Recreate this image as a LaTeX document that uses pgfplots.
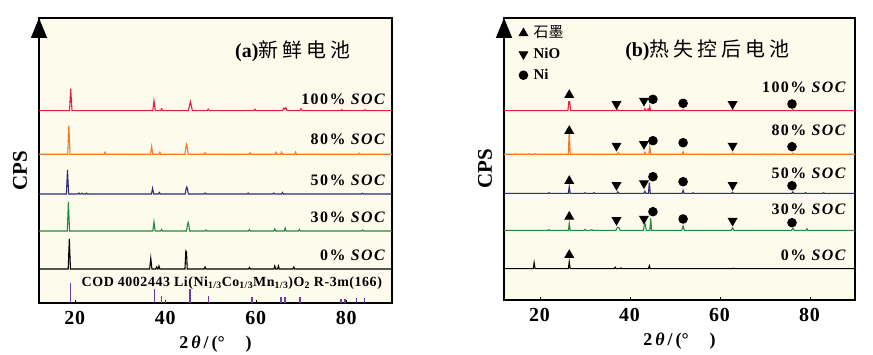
\documentclass[border=0pt]{standalone}
\usepackage{fontspec}
\setmainfont{Liberation Serif}
\newfontfamily\spc[LetterSpace=9]{Liberation Serif}
\newfontfamily\spcb[LetterSpace=4]{Liberation Serif}
\newfontfamily\cjk{Noto Sans CJK SC}
\usepackage{pgfplots}
\pgfplotsset{compat=1.18}
\usetikzlibrary{arrows.meta}
\definecolor{bgc}{HTML}{FCFBEC}
\definecolor{cred}{HTML}{E2203C}
\definecolor{corange}{HTML}{F07A22}
\definecolor{cblue}{HTML}{30297E}
\definecolor{cgreen}{HTML}{1F8A40}
\definecolor{cpurple}{HTML}{6B3BA6}
\newcommand{\fs}[1]{\fontsize{#1}{#1}\selectfont}
\pgfplotsset{
 xrdax/.style={
  scale only axis, xmin=12, xmax=90, ymin=0,
  axis background/.style={fill=bgc},
  axis line style={line width=1.6pt},
  xtick={20,40,60,80}, xticklabels={\textbf{20},\textbf{40},\textbf{60},\textbf{80}}, ytick=\empty,
  tick align=inside, xtick pos=bottom, major tick length=3bp,
  tick style={line width=0.8pt, black},
  xticklabel style={font=\spcb\bfseries\fs{20}, yshift=-5bp},
  xlabel={\bfseries 2\,\textit{θ}\,/\,(°\quad\,)},
  xlabel style={font=\fs{18}, at={(axis description cs:0.5,-0.145)}, anchor=center},
  ylabel={\bfseries CPS},
  ylabel style={font=\fs{21}, at={(axis description cs:-0.054,0.465)}, anchor=center},
  every axis plot/.append style={line width=1.1pt},
 },
}
\tikzset{lab/.style={anchor=east, inner sep=0pt, font=\spc\bfseries\fs{16}}}
\begin{document}
\begin{tikzpicture}
\useasboundingbox (0,0) rectangle (873bp,355bp);
% ---------------- (a) ----------------
\begin{axis}[xrdax, name=a, at={(39bp,52bp)}, anchor=south west,
  width=353bp, height=285bp, ymax=285]
\addplot[cred, table/row sep=\\] table[y expr=\thisrow{h}+192.3] {
x h\\ 12 0\\ 18.75 0\\ 19.0 22\\ 19.3 0\\ 37.15 0\\ 37.4 10\\ 37.7 0\\ 38.85 0\\ 39.1 2\\ 39.35 0\\
45.0 0\\ 45.25 5\\ 45.45 9\\ 45.65 5\\ 45.9 0\\ 49.15 0\\ 49.4 1.5\\ 49.65 0\\ 59.45 0\\ 59.7 1.5\\ 59.95 0\\
65.8 0\\ 66.1 2.5\\ 66.3 1.5\\ 66.55 3\\ 66.8 0\\ 69.65 0\\ 69.9 2\\ 70.15 0\\ 78.7 0\\ 78.9 1\\ 79.1 0\\
83.8 0\\ 84.0 1\\ 84.2 0\\ 90 0\\
};
\addplot[corange, table/row sep=\\] table[y expr=\thisrow{h}+148.7] {
x h\\ 12 0\\ 18.35 0\\ 18.6 29\\ 18.85 0\\ 26.4 0\\ 26.6 2\\ 26.8 0\\ 36.65 0\\ 36.9 7.7\\ 37.15 0\\
38.5 0\\ 38.7 2\\ 38.9 0\\ 44.25 0\\ 44.45 7\\ 44.6 10\\ 44.75 7\\ 44.95 0\\ 48.5 0\\ 48.7 1.5\\ 48.9 0\\
58.4 0\\ 58.6 1.5\\ 58.8 0\\ 64.2 0\\ 64.4 2\\ 64.6 0\\ 65.4 0\\ 65.6 2\\ 65.8 0\\ 68.5 0\\ 68.7 2\\ 68.9 0\\
82.6 0\\ 82.8 1\\ 83.0 0\\ 90 0\\
};
\addplot[cblue, table/row sep=\\] table[y expr=\thisrow{h}+109] {
x h\\ 12 0\\ 18.05 0\\ 18.3 24\\ 18.55 0\\ 20.6 0\\ 20.8 1\\ 21.0 0\\ 21.3 0\\ 21.5 0.8\\ 21.7 0\\ 22.3 0\\ 22.5 0.8\\ 22.7 0\\
36.85 0\\ 37.1 5.7\\ 37.35 0\\ 38.4 0\\ 38.6 1.5\\ 38.8 0\\ 44.3 0\\ 44.5 5\\ 44.65 7\\ 44.8 5\\ 45.0 0\\
48.5 0\\ 48.7 1\\ 48.9 0\\ 58.0 0\\ 58.2 1\\ 58.4 0\\ 63.7 0\\ 63.9 1\\ 64.1 0\\ 65.6 0\\ 65.8 1.5\\ 66.0 0\\
83.3 0\\ 83.5 0.7\\ 83.7 0\\ 90 0\\
};
\addplot[cgreen, table/row sep=\\] table[y expr=\thisrow{h}+72] {
x h\\ 12 0\\ 18.25 0\\ 18.5 29\\ 18.75 0\\ 37.15 0\\ 37.4 9\\ 37.65 0\\ 38.9 0\\ 39.1 1.5\\ 39.3 0\\
44.6 0\\ 44.8 6\\ 44.95 8.7\\ 45.1 6\\ 45.3 0\\ 48.7 0\\ 48.9 1\\ 49.1 0\\ 58.3 0\\ 58.5 1.5\\ 58.7 0\\
63.9 0\\ 64.1 2\\ 64.3 0\\ 66.2 0\\ 66.4 3\\ 66.6 0\\ 69.3 0\\ 69.5 1.5\\ 69.7 0\\ 83.3 0\\ 83.5 1\\ 83.7 0\\ 90 0\\
};
\addplot[black, table/row sep=\\] table[y expr=\thisrow{h}+34] {
x h\\ 12 0\\ 18.45 0\\ 18.7 30\\ 18.95 0\\ 36.45 0\\ 36.7 10.7\\ 36.95 0\\ 37.8 0\\ 38.0 2\\ 38.2 0\\ 38.3 0\\ 38.5 3\\ 38.7 0\\
44.25 0\\ 44.45 18\\ 44.6 17\\ 44.75 0\\ 48.5 0\\ 48.7 2\\ 48.9 0\\ 58.3 0\\ 58.5 1.5\\ 58.7 0\\
63.9 0\\ 64.1 3\\ 64.3 0\\ 64.7 0\\ 64.9 3\\ 65.1 0\\ 68.1 0\\ 68.3 2\\ 68.5 0\\ 90 0\\
};
\addplot[cpurple, ycomb, line width=1.4pt] coordinates {
(19.0,20) (37.5,13.7) (39.1,7) (40.0,2) (45.4,13.7) (49.4,7) (59.1,6) (65.5,6) (66.4,6) (69.7,6)
(78.7,4) (79.6,4) (82.2,5) (83.9,5)};
\node[lab] at (axis cs:88.8,204) {100\% \textit{SOC}};
\node[lab] at (axis cs:88.8,163.7) {80\% \textit{SOC}};
\node[lab] at (axis cs:88.8,123) {50\% \textit{SOC}};
\node[lab] at (axis cs:88.8,85.7) {30\% \textit{SOC}};
\node[lab] at (axis cs:88.8,48) {0\% \textit{SOC}};
\node[anchor=west, inner sep=0pt, font=\spcb\bfseries\fs{14}] at (axis cs:21.4,20.3)
 {COD 4002443 Li(Ni\textsubscript{1/3}Co\textsubscript{1/3}Mn\textsubscript{1/3})O\textsubscript{2} R-3m(166)};
\node[anchor=west, inner sep=0pt, font=\fs{20}] at (axis cs:55.3,251.3)
 {\bfseries(a)\mdseries{\cjk 新\hspace{4bp}鲜\hspace{4bp}电\hspace{4bp}池}};
\end{axis}
\draw[-{Triangle[length=20bp,width=16bp]}, line width=1.6pt] ([yshift=-22bp]a.north west) -- (a.north west);
% ---------------- (b) ----------------
\begin{axis}[xrdax, name=b, at={(504bp,55bp)}, anchor=south west,
  width=351bp, height=282bp, ymax=282,
  legend style={at={(axis description cs:0.04,0.982)}, anchor=north west, draw=none, fill=none,
    font=\bfseries\fs{15}, row sep=3bp, inner sep=1bp,
    nodes={text height=11bp, text depth=3bp},
    /tikz/every odd column/.append style={column sep=4bp}},
  legend cell align=left]
\addplot[cred, forget plot, table/row sep=\\] table[y expr=\thisrow{h}+189.3] {
x h\\ 12 0\\ 26.2 0\\ 26.4 9\\ 26.6 9\\ 26.8 0\\ 37.1 0\\ 37.3 1\\ 37.5 0\\ 43.1 0\\ 43.3 2\\ 43.5 0\\
43.8 0\\ 44.0 1.5\\ 44.15 0\\ 44.25 0\\ 44.4 4\\ 44.55 0\\ 51.6 0\\ 51.8 1\\ 52.0 0\\ 62.6 0\\ 62.8 1\\ 63.0 0\\
76.0 0\\ 76.2 1\\ 76.4 0\\ 90 0\\
};
\addplot[corange, forget plot, table/row sep=\\] table[y expr=\thisrow{h}+145.7] {
x h\\ 12 0\\ 14.3 0\\ 14.5 0.6\\ 14.7 0\\ 15.8 0\\ 16.0 0.5\\ 16.2 0\\ 17.3 0\\ 17.5 0.6\\ 17.7 0\\ 18.8 0\\ 19.0 0.5\\ 19.2 0\\
26.3 0\\ 26.5 25\\ 26.7 0\\ 37.2 0\\ 37.4 1.5\\ 37.6 0\\ 43.1 0\\ 43.3 2\\ 43.5 0\\ 44.2 0\\ 44.4 7.7\\ 44.6 0\\
51.6 0\\ 51.8 2.5\\ 52.0 0\\ 62.6 0\\ 62.8 1\\ 63.0 0\\ 69.8 0\\ 70.0 0.5\\ 70.2 0\\ 71.8 0\\ 72.0 0.5\\ 72.2 0\\
76.0 0\\ 76.2 1\\ 76.4 0\\ 88.8 0\\ 89.0 0.5\\ 89.2 0\\ 90 0\\
};
\addplot[cblue, forget plot, table/row sep=\\] table[y expr=\thisrow{h}+106.7] {
x h\\ 12 0\\ 21.8 0\\ 22.0 0.6\\ 22.2 0\\ 26.3 0\\ 26.5 6.7\\ 26.7 0\\ 29.8 0\\ 30.0 0.5\\ 30.2 0\\ 31.8 0\\ 32.0 0.6\\ 32.2 0\\
37.1 0\\ 37.3 1.5\\ 37.5 0\\ 43.1 0\\ 43.3 2\\ 43.5 0\\ 44.1 0\\ 44.3 10.7\\ 44.5 0\\ 51.6 0\\ 51.8 3\\ 52.0 0\\
53.8 0\\ 54.0 0.5\\ 54.2 0\\ 62.6 0\\ 62.8 1\\ 63.0 0\\ 76.0 0\\ 76.2 1.5\\ 76.4 0\\ 78.8 0\\ 79.0 0.6\\ 79.2 0\\
82.8 0\\ 83.0 0.5\\ 83.2 0\\ 90 0\\
};
\addplot[cgreen, forget plot, table/row sep=\\] table[y expr=\thisrow{h}+69.7] {
x h\\ 12 0\\ 21.8 0\\ 22.0 0.6\\ 22.2 0\\ 26.3 0\\ 26.5 7\\ 26.7 0\\ 29.8 0\\ 30.0 1\\ 30.2 0\\ 31.3 0\\ 31.5 0.7\\ 31.7 0\\
36.9 0\\ 37.2 3\\ 37.5 3\\ 37.8 0\\ 43.0 0\\ 43.2 6.3\\ 43.4 6.3\\ 43.6 0\\ 44.4 0\\ 44.6 12\\ 44.8 0\\
51.5 0\\ 51.8 4.3\\ 52.1 0\\ 62.5 0\\ 62.8 2.5\\ 63.1 0\\ 75.9 0\\ 76.2 2\\ 76.5 0\\ 79.1 0\\ 79.3 1.5\\ 79.5 0\\ 90 0\\
};
\addplot[black, forget plot, table/row sep=\\] table[y expr=\thisrow{h}+31.3] {
x h\\ 12 0\\ 18.5 0\\ 18.7 6\\ 18.9 0\\ 26.3 0\\ 26.5 7\\ 26.7 0\\ 36.5 0\\ 36.7 1.5\\ 36.9 0\\ 37.8 0\\ 38.0 0.8\\ 38.2 0\\
44.1 0\\ 44.3 3\\ 44.5 0\\ 62.8 0\\ 63.0 0.5\\ 63.2 0\\ 90 0\\
};
\addplot[only marks, mark=triangle*, mark size=4.7bp, black] coordinates {
(26.5,205) (26.5,169) (26.5,119) (26.5,83.3) (26.5,45)};
\addplot[only marks, mark=triangle*, mark size=4.7bp, mark options={rotate=180}, black] coordinates {
(37.0,196) (43.1,199.3) (62.8,196) (37.0,154.3) (43.1,156) (62.8,154.3)
(37.0,115) (43.1,116.7) (62.8,115) (37.0,80) (43.1,81.3) (62.8,79.3)};
\addplot[only marks, mark=*, mark size=4.2bp, black] coordinates {
(45.1,200.7) (51.8,196.7) (76.0,196) (45.1,159.3) (51.8,157.3) (76.0,153.3)
(45.1,123.3) (51.8,118.3) (76.0,114.3) (45.1,88.3) (51.8,81) (76.0,77.3)};
\legend{{\mdseries\cjk 石墨},NiO,Ni}
\node[lab] at (axis cs:88.3,212.7) {100\% \textit{SOC}};
\node[lab] at (axis cs:88.3,170) {80\% \textit{SOC}};
\node[lab] at (axis cs:88.3,126.5) {50\% \textit{SOC}};
\node[lab] at (axis cs:88.3,90.7) {30\% \textit{SOC}};
\node[lab] at (axis cs:88.3,45) {0\% \textit{SOC}};
\node[anchor=west, inner sep=0pt, font=\fs{20}] at (axis cs:38.9,250)
 {\bfseries(b)\mdseries{\cjk 热\hspace{4bp}失\hspace{4bp}控\hspace{4bp}后\hspace{4bp}电\hspace{4bp}池}};
\end{axis}
\draw[-{Triangle[length=20bp,width=16bp]}, line width=1.6pt] ([yshift=-22bp]b.north west) -- (b.north west);
\end{tikzpicture}
\end{document}
